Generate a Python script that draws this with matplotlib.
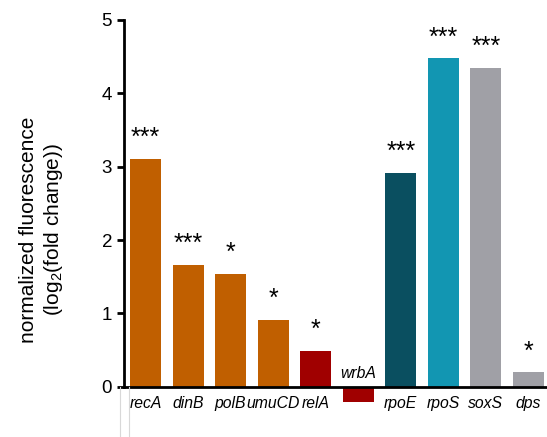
import matplotlib
matplotlib.use("Agg")
import matplotlib.pyplot as plt
from matplotlib.lines import Line2D

plt.rcParams["font.family"] = ["Liberation Sans", "DejaVu Sans"]
plt.rcParams["mathtext.fontset"] = "custom"
plt.rcParams["mathtext.rm"] = "Liberation Sans"
plt.rcParams["mathtext.it"] = "Liberation Sans:italic"

genes = ["recA", "dinB", "polB", "umuCD", "relA", "wrbA", "rpoE", "rpoS", "soxS", "dps"]
values = [3.10, 1.66, 1.54, 0.91, 0.49, -0.21, 2.91, 4.47, 4.34, 0.20]
stars = ["***", "***", "*", "*", "*", "", "***", "***", "***", "*"]
colors = ["#C05F00", "#C05F00", "#C05F00", "#C05F00", "#A00000", "#A00000",
          "#0A4F60", "#1296B2", "#A0A0A6", "#A0A0A6"]

fig = plt.figure(figsize=(5.47, 4.37), dpi=100)
ax = fig.add_axes([0.2267, 0.064, 0.7733, 0.8913])

x = list(range(len(genes)))
ax.bar(x, values, width=0.73, color=colors, zorder=2)

for xi, v, s, g in zip(x, values, stars, genes):
    if s:
        ax.text(xi, v + 0.12, s, ha="center", va="bottom", fontsize=18)
    if v >= 0:
        ax.text(xi, -0.12, g, ha="center", va="top", fontsize=11.3, style="italic")
    else:
        ax.text(xi, 0.08, g, ha="center", va="bottom", fontsize=11.3, style="italic")

ax.set_xlim(-0.505, 9.436)
ax.set_ylim(-0.3, 5.0)
ax.set_yticks([0, 1, 2, 3, 4, 5])
ax.tick_params(axis="y", labelsize=13.5, width=2, length=5, direction="out")
ax.set_xticks([])

for side in ["top", "right"]:
    ax.spines[side].set_visible(False)
ax.spines["left"].set_bounds(0, 5)
ax.spines["left"].set_linewidth(2)
ax.spines["bottom"].set_position(("data", 0))
ax.spines["bottom"].set_linewidth(2)
ax.spines["bottom"].set_zorder(3)

ax.set_ylabel("normalized fluorescence\n(log$_2$(fold change))", fontsize=15,
              linespacing=1.2)
ax.yaxis.set_label_coords(-0.14, 0.46)

# faint guide lines under the axis origin
for xp in [120, 129]:
    fig.add_artist(Line2D([xp / 547, xp / 547], [0, 50 / 437],
                          color="#d8d8d8", linewidth=0.8))

fig.savefig("out.png", dpi=100)
